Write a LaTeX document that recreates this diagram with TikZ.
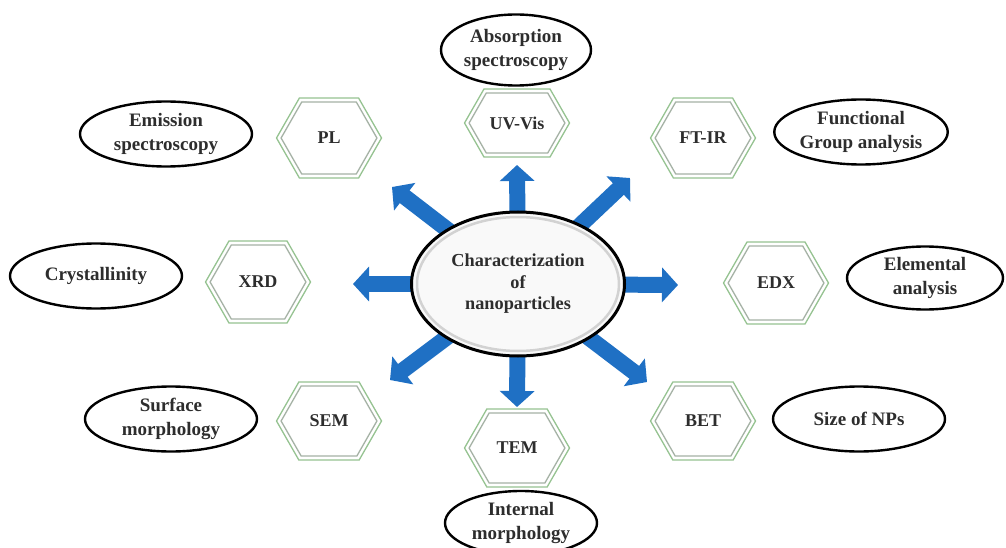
\documentclass[tikz,border=0pt]{standalone}
\usepackage{fontspec}
\setmainfont{Liberation Serif}
\usetikzlibrary{arrows.meta,backgrounds,shapes.geometric,calc}
\definecolor{arrblue}{RGB}{31,112,196}
\definecolor{hexgreen}{RGB}{150,195,145}
\definecolor{hexgray}{RGB}{165,178,165}
\definecolor{txt}{RGB}{45,45,45}
\newcommand\hexshape[2]{%
 \draw[hexline,hexgreen] ([shift={({-52.5+0.573*#2},{-#2})}]#1.center) -- ([shift={({52.5-0.573*#2},{-#2})}]#1.center) -- ([shift={(52.5,0)}]#1.center) -- ([shift={({52.5-0.573*#2},{#2})}]#1.center) -- ([shift={({-52.5+0.573*#2},{#2})}]#1.center) -- ([shift={(-52.5,0)}]#1.center) -- cycle;
 \draw[hexline,hexgray] ([shift={({-50.2+0.573*#2},{-#2+4})}]#1.center) -- ([shift={({50.2-0.573*#2},{-#2+4})}]#1.center) -- ([shift={(47.9,0)}]#1.center) -- ([shift={({50.2-0.573*#2},{#2-4})}]#1.center) -- ([shift={({-50.2+0.573*#2},{#2-4})}]#1.center) -- ([shift={(-47.9,0)}]#1.center) -- cycle;}
\begin{document}
\begin{tikzpicture}[x=1pt,y=-1pt,
  every node/.style={font=\bfseries\fontsize{18}{23}\selectfont, text=txt},
  lab/.style={ellipse, draw=black, line width=2.4pt, fill=white, inner sep=0pt, minimum width=172pt, minimum height=65pt, align=center, font=\bfseries\fontsize{19}{23.5}\selectfont},
  tech/.style={rectangle, inner sep=0pt, minimum width=58pt, minimum height=60pt},
  blk/.style={line width=16pt, draw=arrblue, -{Triangle[width=34pt,length=16pt]}, shorten <=-16pt},
  hexline/.style={line width=1.3pt, line join=miter}
]
\useasboundingbox (0,0) rectangle (1006,548);

% central node
\node[ellipse, draw=black, line width=3pt, fill=gray!5, minimum width=213pt, minimum height=144pt, inner sep=0pt, align=center, font=\bfseries\fontsize{18.3}{21.5}\selectfont] (c) at (518,284) {Characterization\\of\\nanoparticles};
\draw[gray!35, line width=2.5pt] (c.center) ellipse [x radius=101pt, y radius=67pt];

% arrow tips
\coordinate (tU) at (517,165);
\coordinate (tD) at (517,407);
\coordinate (tL) at (353,284);
\coordinate (tR) at (678,285);
\coordinate (tUL) at (392,187);
\coordinate (tUR) at (630,178);
\coordinate (tLL) at (390,380);
\coordinate (tLR) at (647,382);
\begin{scope}[on background layer]
\fill[white] (0,0) rectangle (1006,548);
\foreach \t in {tU,tD,tL,tR,tUL,tUR,tLL,tLR} \draw[blk] (c) -- (\t);
\end{scope}

% technique hexagons
\node[tech] (uv) at (517,123) {UV-Vis};
\node[tech] (pl) at (329,138) {PL};
\node[tech] (ftir) at (703,138) {FT-IR};
\node[tech] (xrd) at (258,282) {XRD};
\node[tech] (edx) at (776,283) {EDX};
\node[tech] (sem) at (329,421) {SEM};
\node[tech] (bet) at (703,421) {BET};
\node[tech] (tem) at (517,448) {TEM};
\hexshape{uv}{34}
\hexshape{pl}{40}
\hexshape{ftir}{40}
\hexshape{xrd}{41}
\hexshape{edx}{41}
\hexshape{sem}{39}
\hexshape{bet}{39}
\hexshape{tem}{39}

% property ellipses
\node[lab, minimum width=150pt, minimum height=71pt] (abs) at (516,50) {Absorption\\spectroscopy};
\node[lab] (emi) at (166,134) {Emission\\spectroscopy};
\node[lab] (fun) at (861,132) {Functional\\Group analysis};
\node[lab] (cry) at (96,276) {Crystallinity};
\node[lab, minimum width=156pt, minimum height=63pt] (ele) at (925,278) {Elemental\\analysis};
\node[lab] (sur) at (171,419) {Surface\\morphology};
\node[lab] (siz) at (859,419) {Size of NPs};
\node[lab, minimum width=152pt, minimum height=64pt] (int) at (521,523) {Internal\\morphology};
\end{tikzpicture}
\end{document}
